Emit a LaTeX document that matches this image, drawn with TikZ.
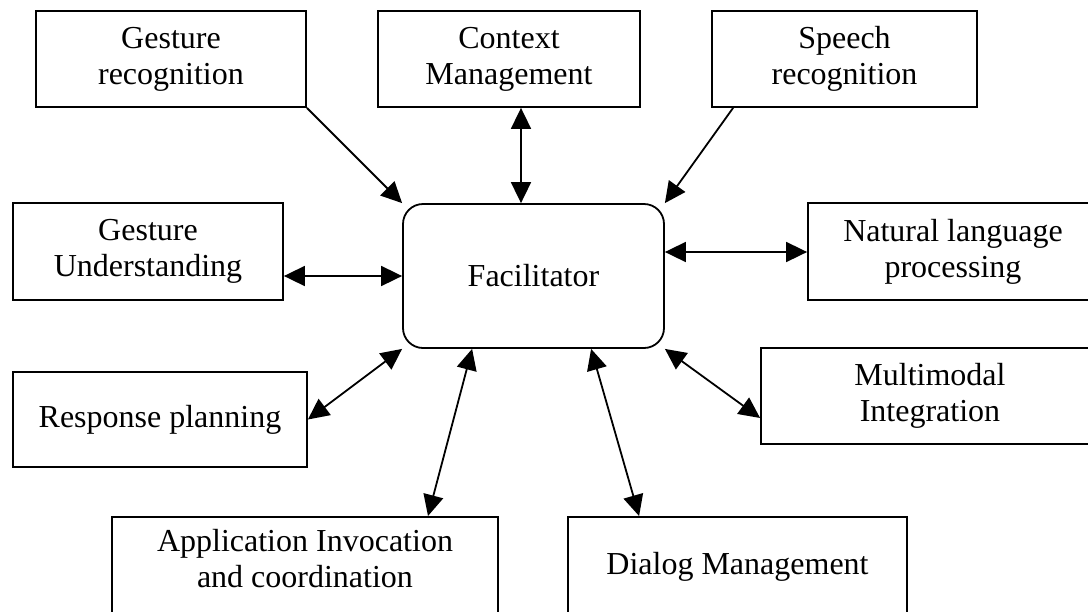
\documentclass[tikz,border=0pt]{standalone}
\usepackage{fontspec}
\setmainfont{Liberation Serif}
\usetikzlibrary{arrows.meta,calc}

\begin{document}
\begin{tikzpicture}[x=1pt,y=-1pt,
  >={Triangle[length=21pt,width=20pt]},
  box/.style={draw,line width=1.8pt,rectangle,align=center,inner sep=0pt,
    font=\fontsize{32}{36}\selectfont},
  hub/.style={box,rounded corners=20pt},
  link/.style={line width=1.8pt}]
  \useasboundingbox (0,0) rectangle (1088,611);
  \clip (0,0) rectangle (1088,611);

  % central facilitator
  \node[hub,minimum width=261pt,minimum height=144pt] (fac) at (533.5,276) {Facilitator};

  % top row
  \node[box,minimum width=270pt,minimum height=96pt] (gr) at (171,59) {Gesture\\recognition};
  \node[box,minimum width=262pt,minimum height=96pt] (ctx) at (509,59) {Context\\Management};
  \node[box,minimum width=265pt,minimum height=96pt] (sp) at (844.5,59) {Speech\\recognition};

  % middle rows
  \node[box,minimum width=270pt,minimum height=97pt] (gu) at (148,251.5) {Gesture\\Understanding};
  \node[box,minimum width=290pt,minimum height=97pt] (nlp) at (953,251.5) {Natural language\\processing};
  \node[box,minimum width=294pt,minimum height=95pt] (rp) at (160,419.5) {Response planning};
  \node[box,minimum width=338pt,minimum height=96pt] (mi) at (930,396) {Multimodal\\Integration};

  % bottom row (boxes run past the lower edge)
  \node[box,anchor=north,minimum width=386pt,inner ysep=12pt,text depth=80pt] (app) at (305,516)
    {Application Invocation\\and coordination};
  \node[box,anchor=north,minimum width=339pt,inner ysep=35pt,text depth=60pt] (dlg) at (737.5,516)
    {Dialog Management};

  % connectors
  \draw[link,->] (gr.south east) -- (fac.north west);
  \draw[link,<->] ([xshift=12pt]ctx.south) -- ([xshift=12pt]ctx.south |- fac.north);
  \draw[link,->] ([xshift=22pt]sp.south west) -- (fac.north east);
  \draw[link,<->] ([yshift=24pt]fac.east) -- ([yshift=24pt]fac.east -| nlp.west);
  \draw[link,<->] (fac.west -| gu.east) -- (fac.west);
  \draw[link,<->] (rp.east) -- (fac.south west);
  \draw[link,<->] (fac.south east) -- ([yshift=-22pt]mi.west);
  \draw[link,<->] ([xshift=123pt]app.north) -- ([xshift=70pt]fac.south west);
  \draw[link,<->] ([xshift=189pt]fac.south west) -- ([xshift=72pt]dlg.north west);
\end{tikzpicture}
\end{document}
